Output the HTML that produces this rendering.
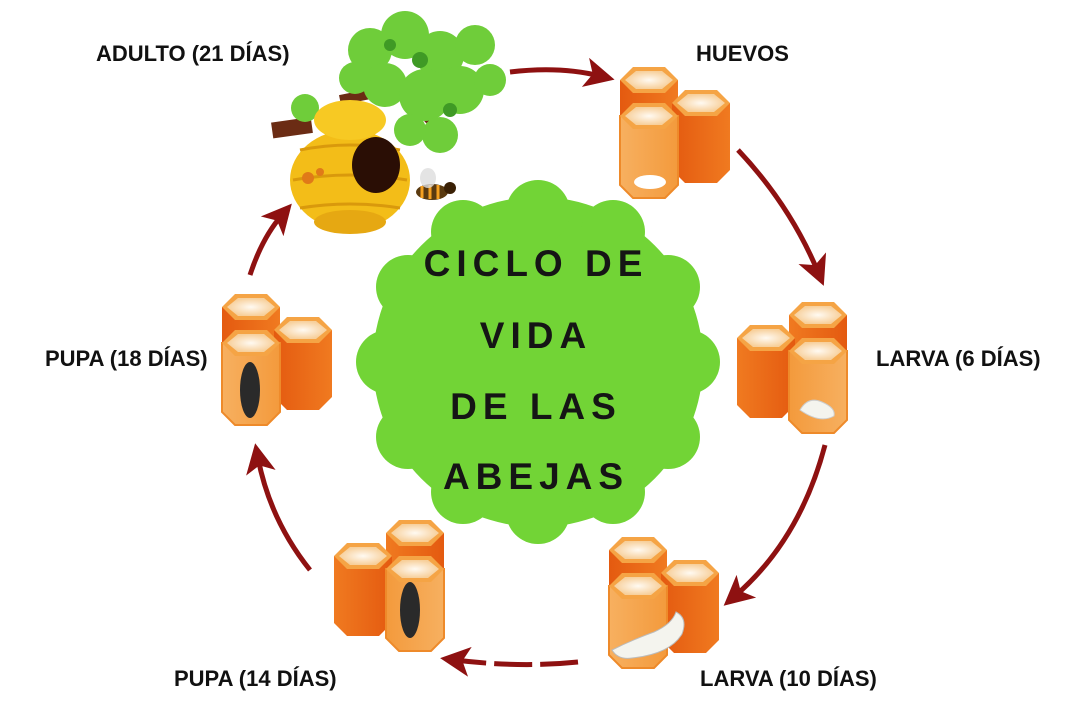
<!DOCTYPE html>
<html><head><meta charset="utf-8"><style>
html,body{margin:0;padding:0;background:#fff;}
body{width:1080px;height:720px;overflow:hidden;position:relative;font-family:"Liberation Sans",sans-serif;}
.lb{position:absolute;font-size:22px;font-weight:bold;color:#111;white-space:nowrap;}
.ct{position:absolute;left:536px;transform:translateX(-50%);font-size:37px;font-weight:bold;letter-spacing:6px;color:#151515;white-space:nowrap;}
</style></head><body>
<svg width="1080" height="720" style="position:absolute;left:0;top:0">
<defs>
<linearGradient id="fr" x1="0" x2="1"><stop offset="0" stop-color="#f7b060"/><stop offset="1" stop-color="#f39a3c"/></linearGradient>
<linearGradient id="sd" x1="0" x2="1"><stop offset="0" stop-color="#e45a10"/><stop offset="1" stop-color="#f07a20"/></linearGradient>
<radialGradient id="tp"><stop offset="0" stop-color="#fffaf2"/><stop offset="1" stop-color="#f7cf9a"/></radialGradient>
<marker id="ah" markerWidth="6" markerHeight="6" refX="3" refY="3" orient="auto" markerUnits="strokeWidth"><path d="M0,0 L6,3 L0,6 L1.5,3 z" fill="#8e1111"/></marker>
<g id="comb">
 <polygon points="1,15 1,95 14,108 46,108 59,95 59,15" fill="url(#sd)"/>
 <polygon points="1,15 14,2 46,2 59,15 46,28 14,28" fill="#f5a445"/>
 <polygon points="6,15 17,6 43,6 54,15 43,24 17,24" fill="url(#tp)"/>
 <polygon points="53,38 53,105 66,118 98,118 111,105 111,38" fill="url(#sd)"/>
 <polygon points="53,38 66,25 98,25 111,38 98,51 66,51" fill="#f5a445"/>
 <polygon points="58,38 69,29 95,29 106,38 95,47 69,47" fill="url(#tp)"/>
 <polygon points="1,51 1,120 14,133 46,133 59,120 59,51" fill="url(#fr)" stroke="#ee8a2a" stroke-width="2"/>
 <polygon points="1,51 14,38 46,38 59,51 46,64 14,64" fill="#f5a445"/>
 <polygon points="6,51 17,42 43,42 54,51 43,60 17,60" fill="url(#tp)"/>
</g>
</defs>

<g fill="none" stroke="#8e1111" stroke-width="5" marker-end="url(#ah)">
<path d="M510,72 Q560,66 600,76"/>
<path d="M738,150 Q790,205 818,272"/>
<path d="M825,445 Q800,540 735,596"/>
<path d="M578,662 Q520,668 455,660" stroke-dasharray="38,8"/>
<path d="M310,570 Q270,520 258,458"/>
<path d="M250,275 Q262,238 282,215"/>
</g>

<g fill="#72d436">
<circle cx="538" cy="362" r="165"/>
<circle cx="538" cy="212" r="32"/><circle cx="613" cy="232" r="32"/><circle cx="668" cy="287" r="32"/>
<circle cx="688" cy="362" r="32"/><circle cx="668" cy="437" r="32"/><circle cx="613" cy="492" r="32"/>
<circle cx="538" cy="512" r="32"/><circle cx="463" cy="492" r="32"/><circle cx="408" cy="437" r="32"/>
<circle cx="388" cy="362" r="32"/><circle cx="408" cy="287" r="32"/><circle cx="463" cy="232" r="32"/>
</g>

<use href="#comb" x="619" y="65"/>
<ellipse cx="650" cy="182" rx="16" ry="7" fill="#fff"/>
<use href="#comb" transform="translate(848,300) scale(-1,1)"/>
<path d="M800,410 q8,-14 22,-8 q14,6 12,14 q-14,8 -34,-6z" fill="#f4f4ee" stroke="#ccc"/>
<use href="#comb" x="608" y="535"/>
<path d="M612,650 q20,-10 42,-18 q18,-8 22,-20 q12,6 6,22 q-12,20 -50,24 q-14,2 -20,-8z" fill="#f4f4ee" stroke="#bbb"/>
<use href="#comb" transform="translate(445,518) scale(-1,1)"/>
<ellipse cx="410" cy="610" rx="10" ry="28" fill="#2a2a2a"/>
<use href="#comb" x="221" y="292"/>
<ellipse cx="250" cy="390" rx="10" ry="28" fill="#2a2a2a"/>

<rect x="272" y="120" width="40" height="16" fill="#6b2c14" transform="rotate(-8 290 128)"/>
<path d="M340,100 L400,88 L430,120" stroke="#6b2c14" stroke-width="10" fill="none"/>
<g fill="#6fcd3a">
<circle cx="370" cy="50" r="22"/><circle cx="405" cy="35" r="24"/><circle cx="440" cy="55" r="24"/><circle cx="475" cy="45" r="20"/>
<circle cx="385" cy="85" r="22"/><circle cx="425" cy="95" r="26"/><circle cx="460" cy="90" r="24"/><circle cx="490" cy="80" r="16"/>
<circle cx="440" cy="135" r="18"/><circle cx="410" cy="130" r="16"/><circle cx="355" cy="78" r="16"/><circle cx="305" cy="108" r="14"/>
</g>
<g fill="#3f9a25"><circle cx="420" cy="60" r="8"/><circle cx="450" cy="110" r="7"/><circle cx="390" cy="45" r="6"/></g>
<ellipse cx="350" cy="180" rx="60" ry="50" fill="#f3bd18"/>
<ellipse cx="350" cy="120" rx="36" ry="20" fill="#f7c923"/>
<ellipse cx="350" cy="222" rx="36" ry="12" fill="#e6a812"/>
<g stroke="#d9990c" stroke-width="3" fill="none">
<path d="M300,150 Q350,140 400,150"/><path d="M293,180 Q350,170 407,180"/><path d="M300,208 Q350,200 400,208"/></g>
<ellipse cx="376" cy="165" rx="24" ry="28" fill="#2a0e05"/>
<circle cx="308" cy="178" r="6" fill="#e07a18"/><circle cx="320" cy="172" r="4" fill="#e07a18"/>
<ellipse cx="432" cy="192" rx="16" ry="8" fill="#5a3a10"/>
<path d="M422,186 v12 M430,185 v14 M438,185 v14" stroke="#f5a020" stroke-width="3"/>
<ellipse cx="428" cy="178" rx="8" ry="10" fill="#ddd" opacity="0.8"/>
<circle cx="450" cy="188" r="6" fill="#3a2005"/>
</svg>

<div class="lb" style="left:96px;top:41px">ADULTO (21 DÍAS)</div>
<div class="lb" style="left:696px;top:41px">HUEVOS</div>
<div class="lb" style="left:876px;top:346px">LARVA (6 DÍAS)</div>
<div class="lb" style="left:45px;top:346px">PUPA (18 DÍAS)</div>
<div class="lb" style="left:174px;top:666px">PUPA (14 DÍAS)</div>
<div class="lb" style="left:700px;top:666px">LARVA (10 DÍAS)</div>

<div class="ct" style="top:243px">CICLO DE</div>
<div class="ct" style="top:315px">VIDA</div>
<div class="ct" style="top:386px">DE LAS</div>
<div class="ct" style="top:456px">ABEJAS</div>
</body></html>
